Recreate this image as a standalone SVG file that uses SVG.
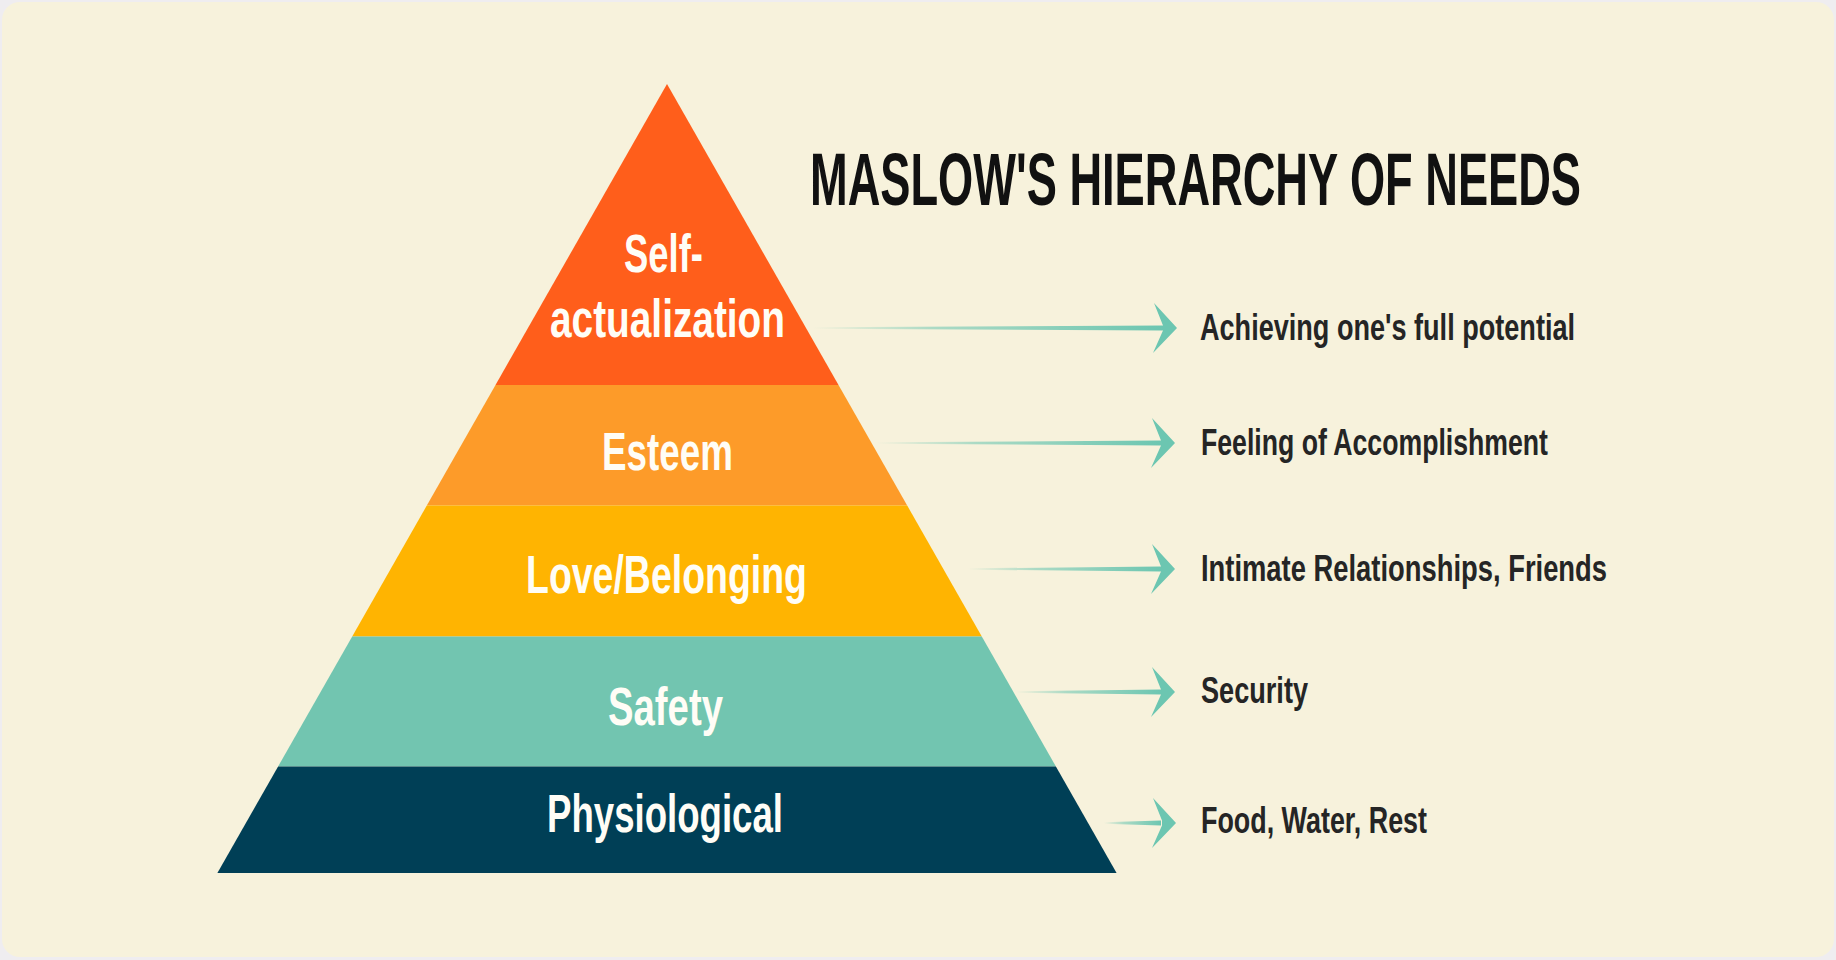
<svg xmlns="http://www.w3.org/2000/svg" width="1836" height="960" viewBox="0 0 1836 960">
  <style>
    .tier-label { font-family: "Liberation Sans", "DejaVu Sans", sans-serif; font-weight: bold; font-size: 54px; fill: #FFFDF6; }
    .desc { font-family: "Liberation Sans", "DejaVu Sans", sans-serif; font-weight: bold; font-size: 36px; fill: #252525; }
    .title { font-family: "Liberation Sans", "DejaVu Sans", sans-serif; font-weight: bold; font-size: 74px; fill: #111111; }
    .head { fill: #6CC6B1; }
  </style>
  <defs>
    <linearGradient id="shaftGrad" x1="0" y1="0" x2="1" y2="0">
      <stop offset="0" stop-color="#6CC6B1" stop-opacity="0"/>
      <stop offset="0.35" stop-color="#6CC6B1" stop-opacity="0.55"/>
      <stop offset="1" stop-color="#6CC6B1" stop-opacity="1"/>
    </linearGradient>
    <path id="arrowHead" d="M0,0 L-23,-25 L-14,-2.5 L-14,2.5 L-24,25 Z"/>
  </defs>

  <!-- background -->
  <rect x="0" y="0" width="1836" height="960" fill="#EFEDF0"/>
  <rect x="2" y="2" width="1832" height="955" rx="18" ry="18" fill="#F7F2DC"/>

  <!-- pyramid tiers -->
  <g id="tier-self-actualization">
    <polygon points="667,84 838.5,385 495.5,385" fill="#FF5E1B"/>
    <text class="tier-label" x="624" y="272" textLength="79" lengthAdjust="spacingAndGlyphs">Self-</text>
    <text class="tier-label" x="550" y="337" textLength="235" lengthAdjust="spacingAndGlyphs">actualization</text>
  </g>
  <g id="tier-esteem">
    <polygon points="495.5,385 838.5,385 907.2,505.5 426.8,505.5" fill="#FD9B29"/>
    <text class="tier-label" x="602" y="470" textLength="131" lengthAdjust="spacingAndGlyphs">Esteem</text>
  </g>
  <g id="tier-love-belonging">
    <polygon points="426.8,505.5 907.2,505.5 981.8,636.5 352.2,636.5" fill="#FFB401"/>
    <text class="tier-label" x="526" y="593" textLength="281" lengthAdjust="spacingAndGlyphs">Love/Belonging</text>
  </g>
  <g id="tier-safety">
    <polygon points="352.2,636.5 981.8,636.5 1055.9,766.5 278.1,766.5" fill="#72C5B0"/>
    <text class="tier-label" x="608" y="725" textLength="115" lengthAdjust="spacingAndGlyphs">Safety</text>
  </g>
  <g id="tier-physiological">
    <polygon points="278.1,766.5 1055.9,766.5 1116.6,873 217.4,873" fill="#003F56"/>
    <text class="tier-label" x="547" y="832" textLength="236" lengthAdjust="spacingAndGlyphs">Physiological</text>
  </g>

  <!-- title -->
  <g id="title">
    <text class="title" x="810" y="205" textLength="771" lengthAdjust="spacingAndGlyphs">MASLOW'S HIERARCHY OF NEEDS</text>
  </g>

  <!-- connectors -->
  <g id="connectors">
    <polygon points="812,327.3 1163,325.6 1163,330.4 812,328.7" fill="url(#shaftGrad)"/>
    <use href="#arrowHead" x="1177" y="328" class="head"/>
    <polygon points="876,442.3 1161,440.6 1161,445.4 876,443.7" fill="url(#shaftGrad)"/>
    <use href="#arrowHead" x="1175" y="443" class="head"/>
    <polygon points="968,568.3 1161,566.6 1161,571.4 968,569.7" fill="url(#shaftGrad)"/>
    <use href="#arrowHead" x="1175" y="569" class="head"/>
    <polygon points="1016,691.3 1161,689.6 1161,694.4 1016,692.7" fill="url(#shaftGrad)"/>
    <use href="#arrowHead" x="1175" y="692" class="head"/>
    <polygon points="1104,822.3 1161,820.6 1161,825.4 1104,823.7" fill="url(#shaftGrad)"/>
    <use href="#arrowHead" x="1176" y="823" class="head"/>
  </g>

  <!-- descriptions -->
  <g id="desc-self-actualization">
    <text class="desc" x="1200" y="340" textLength="375" lengthAdjust="spacingAndGlyphs">Achieving one's full potential</text>
  </g>
  <g id="desc-esteem">
    <text class="desc" x="1201" y="455" textLength="347" lengthAdjust="spacingAndGlyphs">Feeling of Accomplishment</text>
  </g>
  <g id="desc-love-belonging">
    <text class="desc" x="1201" y="581" textLength="406" lengthAdjust="spacingAndGlyphs">Intimate Relationships, Friends</text>
  </g>
  <g id="desc-safety">
    <text class="desc" x="1201" y="703" textLength="107" lengthAdjust="spacingAndGlyphs">Security</text>
  </g>
  <g id="desc-physiological">
    <text class="desc" x="1201" y="833" textLength="226" lengthAdjust="spacingAndGlyphs">Food, Water, Rest</text>
  </g>
</svg>
